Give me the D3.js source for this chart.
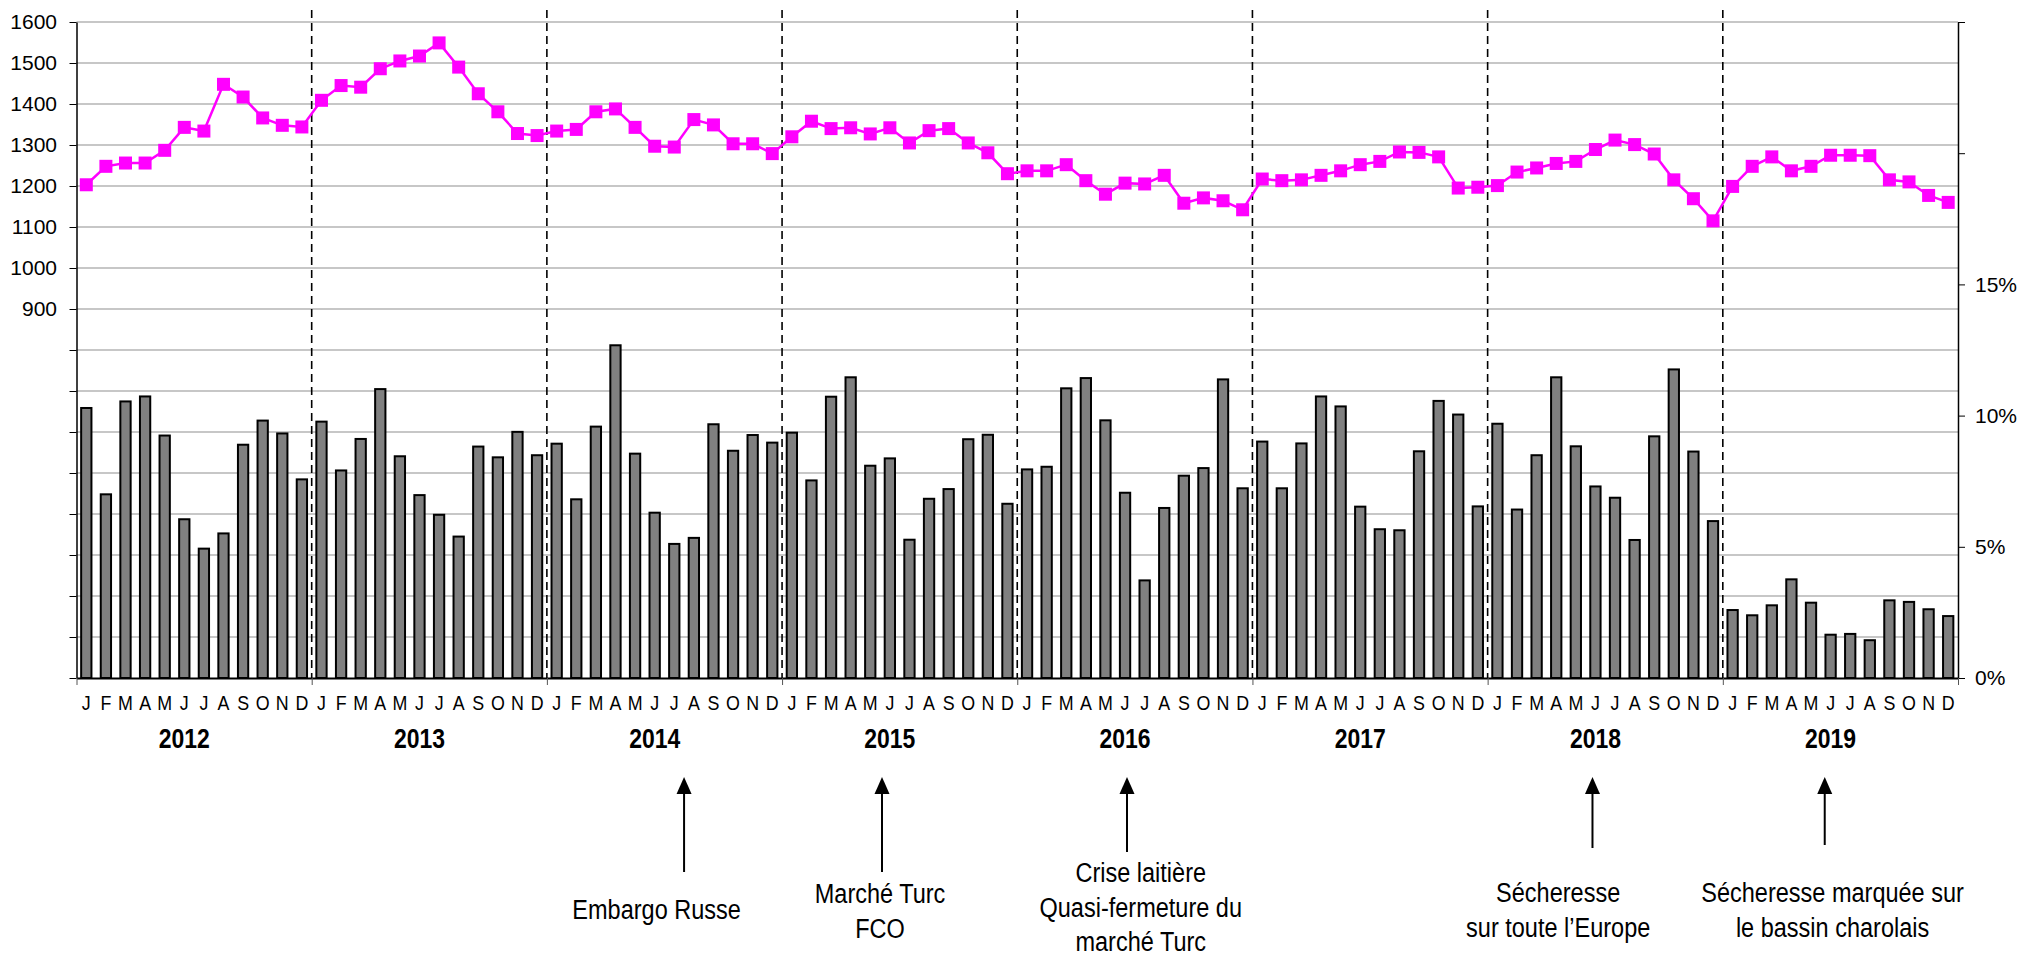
<!DOCTYPE html>
<html>
<head>
<meta charset="utf-8">
<script src="https://cdn.jsdelivr.net/npm/d3@7"></script>
<style>
  body { margin: 0; background: #fff; }
  svg { display: block; }
</style>
</head>
<body>
<div id="chart"></div>
<script>
const monthLetters = ["J", "F", "M", "A", "M", "J", "J", "A", "S", "O", "N", "D"];
const years = [2012, 2013, 2014, 2015, 2016, 2017, 2018, 2019];

// left axis series (line)
const prices = [
  1203, 1248, 1256, 1256, 1287, 1343, 1334, 1448, 1417, 1366, 1348, 1344,
  1409, 1445, 1441, 1486, 1505, 1517, 1549, 1490, 1425, 1381, 1328, 1323,
  1334, 1338, 1381, 1388, 1343, 1297, 1295, 1362, 1349, 1303, 1303, 1279,
  1320, 1358, 1340, 1342, 1327, 1342, 1305, 1335, 1340, 1305, 1281, 1230,
  1237, 1237, 1252, 1213, 1180, 1207, 1205, 1226, 1158, 1171, 1164, 1142,
  1217, 1213, 1215, 1226, 1237, 1252, 1260, 1283, 1282, 1271, 1195, 1197,
  1201, 1234, 1244, 1255, 1260, 1289, 1312, 1301, 1278, 1215, 1169, 1115,
  1199, 1248, 1271, 1237, 1248, 1275, 1275, 1274, 1215, 1210, 1177, 1160
];

// right axis series (bars, %)
const shares = [
  10.29, 7.00, 10.54, 10.73, 9.24, 6.05, 4.93, 5.51, 8.89, 9.81, 9.32, 7.57,
  9.77, 7.91, 9.11, 11.01, 8.45, 6.97, 6.22, 5.39, 8.82, 8.41, 9.38, 8.49,
  8.93, 6.81, 9.58, 12.68, 8.55, 6.30, 5.11, 5.34, 9.67, 8.66, 9.26, 8.97,
  9.35, 7.53, 10.72, 11.46, 8.09, 8.37, 5.27, 6.83, 7.20, 9.10, 9.27, 6.64,
  7.95, 8.05, 11.04, 11.43, 9.82, 7.06, 3.72, 6.48, 7.71, 8.00, 11.38, 7.23,
  9.01, 7.23, 8.94, 10.73, 10.35, 6.53, 5.67, 5.63, 8.64, 10.56, 10.04, 6.54,
  9.69, 6.42, 8.49, 11.46, 8.83, 7.30, 6.87, 5.26, 9.21, 11.76, 8.63, 5.98,
  2.59, 2.39, 2.77, 3.76, 2.87, 1.65, 1.68, 1.44, 2.96, 2.90, 2.62, 2.36
];

const leftTicks = d3.range(0, 1700, 100);
const leftLabelMin = 900;
const rightTicks = [0, 5, 10, 15, 20, 25];
const rightLabelMax = 15;

// events below the chart: text lines, arrow position and text position (in months from Jan 2012)
const eventLabels = [
  ["Embargo Russe"],
  ["Marché Turc", "FCO"],
  ["Crise laitière", "Quasi-fermeture du", "marché Turc"],
  ["Sécheresse", "sur toute l’Europe"],
  ["Sécheresse marquée sur", "le bassin charolais"]
];
const eventArrowMonth = [31.0, 41.1, 53.6, 77.35, 89.2];
const eventTextMonth = [29.6, 41.0, 54.3, 75.6, 89.6];

const W = 2022, H = 958;
const plotLeft = 76.5, plotRight = 1958, plotTop = 22, plotBottom = 678;
const font = "'Liberation Sans', Arial, sans-serif";

const svg = d3.select("#chart").append("svg")
  .attr("width", W).attr("height", H)
  .attr("viewBox", `0 0 ${W} ${H}`);

const n = prices.length;
const idx = d3.range(n);

const x = d3.scaleBand().domain(idx).range([plotLeft, plotRight])
  .paddingInner(0.475).paddingOuter(0.2375);
const xm = d3.scaleLinear().domain([0, n]).range([plotLeft, plotRight]); // month units
const yL = d3.scaleLinear().domain([0, 1600]).range([plotBottom, plotTop]);
const yR = d3.scaleLinear().domain([0, 25]).range([plotBottom, plotTop]);
const cx = (i) => x(i) + x.bandwidth() / 2;

// grid
svg.append("g")
  .selectAll("line")
  .data(leftTicks.filter((d) => d > 0))
  .enter().append("line")
  .attr("x1", plotLeft).attr("x2", plotRight)
  .attr("y1", (d) => yL(d)).attr("y2", (d) => yL(d))
  .attr("stroke", "#b5b5b5").attr("stroke-width", 1.5);

// bars
svg.append("g")
  .selectAll("rect")
  .data(shares)
  .enter().append("rect")
  .attr("x", (d, i) => x(i))
  .attr("width", x.bandwidth())
  .attr("y", (d) => yR(d))
  .attr("height", (d) => yR(0) - yR(d))
  .attr("fill", "#808080")
  .attr("stroke", "#000")
  .attr("stroke-width", 2);

// year separators
svg.append("g")
  .selectAll("line")
  .data(d3.range(1, years.length))
  .enter().append("line")
  .attr("x1", (k) => xm(k * 12)).attr("x2", (k) => xm(k * 12))
  .attr("y1", 10).attr("y2", plotBottom)
  .attr("stroke", "#000").attr("stroke-width", 1.6)
  .attr("stroke-dasharray", "8,5");

// line series
const line = d3.line().x((d, i) => cx(i)).y((d) => yL(d));
svg.append("path")
  .datum(prices)
  .attr("d", line)
  .attr("fill", "none")
  .attr("stroke", "#ff00ff")
  .attr("stroke-width", 2.5);

const ms = 13;
svg.append("g")
  .selectAll("rect")
  .data(prices)
  .enter().append("rect")
  .attr("x", (d, i) => cx(i) - ms / 2)
  .attr("y", (d) => yL(d) - ms / 2)
  .attr("width", ms).attr("height", ms)
  .attr("fill", "#ff00ff");

// left axis
const gl = svg.append("g")
  .attr("transform", `translate(${plotLeft},0)`)
  .call(d3.axisLeft(yL).tickValues(leftTicks).tickSize(7).tickSizeOuter(0).tickPadding(12.5)
    .tickFormat((d) => (d >= leftLabelMin ? d : "")));
gl.selectAll("text").attr("font-family", font).attr("font-size", "21px").attr("fill", "#000");
gl.select(".domain").attr("stroke-width", 1.5);

// right axis
const gr = svg.append("g")
  .attr("transform", `translate(${plotRight},0)`)
  .call(d3.axisRight(yR).tickValues(rightTicks).tickSize(7).tickSizeOuter(0).tickPadding(10)
    .tickFormat((d) => (d <= rightLabelMax ? d + "%" : "")));
gr.selectAll("text").attr("font-family", font).attr("font-size", "21px").attr("fill", "#000");
gr.select(".domain").attr("stroke-width", 1.5);

// bottom axis (baseline + year ticks)
const gb = svg.append("g")
  .attr("transform", `translate(0,${plotBottom})`)
  .call(d3.axisBottom(xm).tickValues(d3.range(0, n + 1, 12)).tickSize(7).tickSizeOuter(0).tickFormat(""));
gb.select(".domain").attr("stroke-width", 2.2);
gb.selectAll(".tick line").attr("stroke", "#555");

// condensed text helper
const narrow = (sel, sx) => sel.attr("transform", function () {
  const t = d3.select(this);
  return `translate(${t.attr("data-x")},${t.attr("data-y")}) scale(${sx},1)`;
});

// month letters
svg.append("g")
  .selectAll("text")
  .data(idx)
  .enter().append("text")
  .attr("data-x", (i) => cx(i)).attr("data-y", 710)
  .attr("text-anchor", "middle")
  .attr("font-family", font).attr("font-size", "21px")
  .text((i) => monthLetters[i % 12])
  .call(narrow, 0.85);

// year labels
svg.append("g")
  .selectAll("text")
  .data(years)
  .enter().append("text")
  .attr("data-x", (d, k) => cx(k * 12 + 5)).attr("data-y", 748)
  .attr("text-anchor", "middle")
  .attr("font-family", font).attr("font-size", "28px").attr("font-weight", "bold")
  .text((d) => d)
  .call(narrow, 0.82);

// event arrows + labels
const arrowTip = 777;
const arrowEnd = [872, 872, 852, 848, 845];
const firstBaseline = [919, 903, 882, 902, 902];
const lineGap = 34.5;
const ev = svg.append("g").selectAll("g")
  .data(eventLabels)
  .enter().append("g");

ev.append("line")
  .attr("x1", (d, i) => xm(eventArrowMonth[i])).attr("x2", (d, i) => xm(eventArrowMonth[i]))
  .attr("y1", arrowTip + 14).attr("y2", (d, i) => arrowEnd[i])
  .attr("stroke", "#000").attr("stroke-width", 2);

ev.append("path")
  .attr("d", (d, i) => {
    const ax = xm(eventArrowMonth[i]);
    return `M${ax},${arrowTip} L${ax - 7.5},${arrowTip + 17} L${ax + 7.5},${arrowTip + 17} Z`;
  })
  .attr("fill", "#000");

ev.each(function (lines, i) {
  d3.select(this).selectAll("text")
    .data(lines)
    .enter().append("text")
    .attr("data-x", xm(eventTextMonth[i]))
    .attr("data-y", (l, j) => firstBaseline[i] + j * lineGap)
    .attr("text-anchor", "middle")
    .attr("font-family", font).attr("font-size", "28px")
    .text((l) => l)
    .call(narrow, 0.84);
});
</script>
</body>
</html>
